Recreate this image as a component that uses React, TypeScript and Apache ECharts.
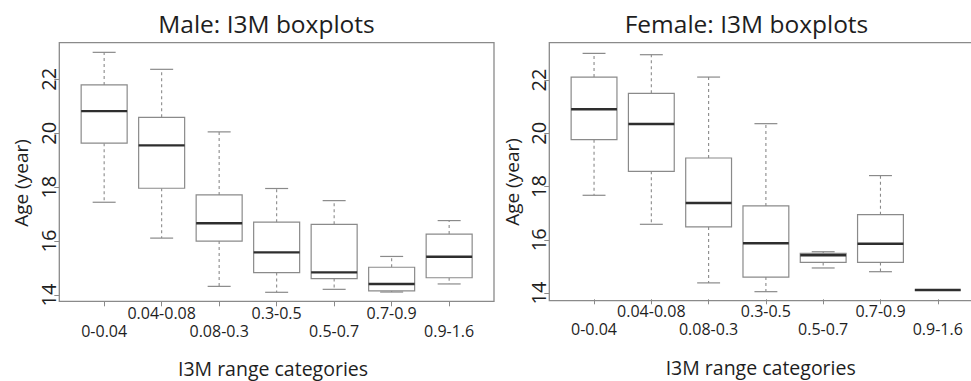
import React, { useEffect, useRef } from 'react';
import * as echarts from 'echarts';

const categories = ['0-0.04', '0.04-0.08', '0.08-0.3', '0.3-0.5', '0.5-0.7', '0.7-0.9', '0.9-1.6'];
const yTickMin = 14;
const yTickMax = 22;
const yTickStep = 2;

// Male boxplot statistics (years)
const maleLow = [17.44, 16.11, 14.32, 14.1, 14.21, 14.11, 14.41];
const maleQ1 = [19.63, 17.96, 16.0, 14.83, 14.61, 14.15, 14.64];
const maleMedian = [20.82, 19.55, 16.66, 15.58, 14.84, 14.41, 15.42];
const maleQ3 = [21.79, 20.59, 17.71, 16.7, 16.62, 15.03, 16.26];
const maleHigh = [23.0, 22.37, 20.05, 17.95, 17.5, 15.43, 16.76];

// Female boxplot statistics (years)
const femaleLow = [17.67, 16.58, 14.38, 14.05, 14.94, 14.8, 14.11];
const femaleQ1 = [19.76, 18.57, 16.48, 14.6, 15.15, 15.15, 14.11];
const femaleMedian = [20.9, 20.35, 17.38, 15.87, 15.42, 15.85, 14.11];
const femaleQ3 = [22.11, 21.5, 19.07, 17.27, 15.49, 16.94, 14.11];
const femaleHigh = [23.0, 22.95, 22.11, 20.36, 15.55, 18.41, 14.11];

const FONT = '"Open Sans", "Noto Sans", sans-serif';
const BOX_COLOR = '#8a8a8a';
const MEDIAN_COLOR = '#2e2e2e';
const TEXT_COLOR = '#1e1e1e';

function buildRows(low: number[], q1: number[], med: number[], q3: number[], high: number[]) {
  return categories.map((_, i) => [i, low[i], q1[i], med[i], q3[i], high[i]]);
}

const renderBox = (params: any, api: any) => {
  const i = api.value(0);
  const lo = api.value(1);
  const q1 = api.value(2);
  const med = api.value(3);
  const q3 = api.value(4);
  const hi = api.value(5);
  const band = api.size([1, 0])[0];
  const bw = band * 0.8;
  const pLo = api.coord([i, lo]);
  const pQ1 = api.coord([i, q1]);
  const pMed = api.coord([i, med]);
  const pQ3 = api.coord([i, q3]);
  const pHi = api.coord([i, hi]);
  const x = pMed[0];
  const thin = { stroke: BOX_COLOR, lineWidth: 1.2 };
  const dashed = { stroke: BOX_COLOR, lineWidth: 1.1, lineDash: [3, 3] };
  return {
    type: 'group',
    children: [
      { type: 'line', shape: { x1: x, y1: pQ3[1], x2: x, y2: pHi[1] }, style: dashed },
      { type: 'line', shape: { x1: x, y1: pQ1[1], x2: x, y2: pLo[1] }, style: dashed },
      { type: 'line', shape: { x1: x - bw / 4, y1: pHi[1], x2: x + bw / 4, y2: pHi[1] }, style: thin },
      { type: 'line', shape: { x1: x - bw / 4, y1: pLo[1], x2: x + bw / 4, y2: pLo[1] }, style: thin },
      {
        type: 'rect',
        shape: { x: x - bw / 2, y: pQ3[1], width: bw, height: pQ1[1] - pQ3[1] },
        style: { fill: '#ffffff', stroke: BOX_COLOR, lineWidth: 1.2 },
      },
      {
        type: 'line',
        shape: { x1: x - bw / 2, y1: pMed[1], x2: x + bw / 2, y2: pMed[1] },
        style: { stroke: MEDIAN_COLOR, lineWidth: 2.4 },
      },
    ],
  };
};

function xAxisFor(gridIndex: number) {
  return {
    type: 'category',
    gridIndex,
    data: categories,
    offset: 6.3,
    axisLine: { show: false },
    axisTick: { show: true, alignWithLabel: true, length: 5, lineStyle: { color: BOX_COLOR, width: 1 } },
    axisLabel: {
      interval: 0,
      margin: 2,
      fontFamily: FONT,
      fontSize: 16,
      color: TEXT_COLOR,
      lineHeight: 18.4,
      formatter: (v: string, idx: number) => (idx % 2 === 0 ? '\n' + v : v),
    },
    splitLine: { show: false },
  };
}

function yAxisFor(gridIndex: number) {
  return {
    type: 'value',
    gridIndex,
    min: yTickMin,
    max: yTickMax,
    interval: yTickStep,
    offset: 16.1,
    axisLine: { show: false },
    axisTick: { show: true, length: 5, lineStyle: { color: BOX_COLOR, width: 1 } },
    axisLabel: { rotate: 90, margin: 1, fontFamily: FONT, fontSize: 20, color: TEXT_COLOR },
    splitLine: { show: false },
  };
}

function textEl(text: string, x: number, y: number, size: number, rotation = 0) {
  return {
    type: 'text',
    x,
    y,
    rotation,
    style: {
      text,
      font: `${size}px ${FONT}`,
      fill: TEXT_COLOR,
      textAlign: 'center',
      textVerticalAlign: 'middle',
    },
  };
}

export default function App() {
  const ref = useRef<HTMLDivElement>(null);
  useEffect(() => {
    if (!ref.current) return;
    const chart = echarts.init(ref.current, null, { renderer: 'svg' });
    chart.setOption({
      animation: false,
      backgroundColor: '#ffffff',
      grid: [
        { left: 75.4, top: 79.3, width: 402.5, height: 215.7 },
        { left: 565.4, top: 80, width: 401, height: 213 },
      ],
      xAxis: [xAxisFor(0), xAxisFor(1)],
      yAxis: [yAxisFor(0), yAxisFor(1)],
      graphic: [
        { type: 'rect', shape: { x: 59.3, y: 42.7, width: 434.7, height: 258.6 }, style: { fill: 'none', stroke: '#8a8a8a', lineWidth: 1.3 }, silent: true },
        { type: 'rect', shape: { x: 549.3, y: 42.7, width: 433.2, height: 258 }, style: { fill: 'none', stroke: '#8a8a8a', lineWidth: 1.3 }, silent: true },
        textEl('Male: I3M boxplots', 266.5, 23.5, 24.5),
        textEl('Female: I3M boxplots', 746.5, 23.2, 24.5),
        textEl('Age (year)', 20.7, 183, 19, Math.PI / 2),
        textEl('Age (year)', 512, 182, 19, Math.PI / 2),
        textEl('I3M range categories', 273, 368.3, 19.5),
        textEl('I3M range categories', 760.7, 367, 19.5),
      ],
      series: [
        {
          type: 'custom',
          xAxisIndex: 0,
          yAxisIndex: 0,
          renderItem: renderBox,
          encode: { x: 0, y: [1, 2, 3, 4, 5] },
          data: buildRows(maleLow, maleQ1, maleMedian, maleQ3, maleHigh),
          z: 3,
        },
        {
          type: 'custom',
          xAxisIndex: 1,
          yAxisIndex: 1,
          renderItem: renderBox,
          encode: { x: 0, y: [1, 2, 3, 4, 5] },
          data: buildRows(femaleLow, femaleQ1, femaleMedian, femaleQ3, femaleHigh),
          z: 3,
        },
      ],
    });
    return () => chart.dispose();
  }, []);
  return (
    <div
      ref={ref}
      style={{ position: 'fixed', left: 0, top: 0, width: 971, height: 381, background: '#fff' }}
    />
  );
}
